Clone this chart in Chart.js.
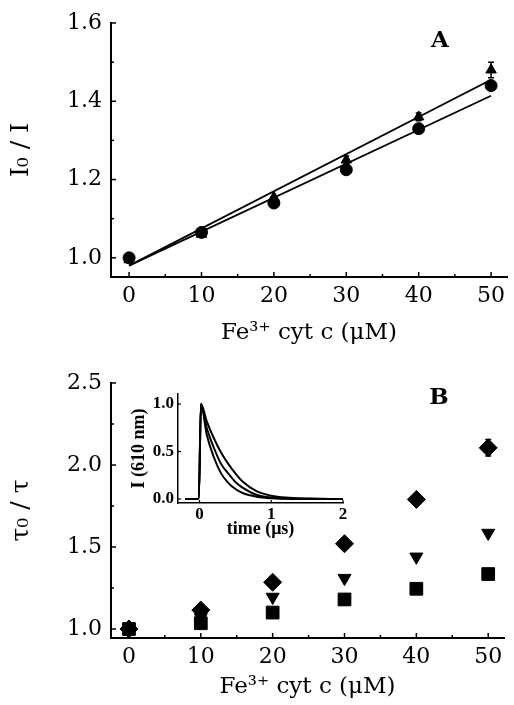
<!DOCTYPE html>
<html>
<head>
<meta charset="utf-8">
<script src="https://cdn.jsdelivr.net/npm/chart.js@4.4.1/dist/chart.umd.min.js"></script>
<style>
  body { margin: 0; background: #fff; }
  #wrap { position: relative; width: 514px; height: 705px; }
  canvas { position: absolute; }
</style>
</head>
<body>
<div id="wrap">
  <canvas id="chartA" width="514" height="350" style="left:0;top:0"></canvas>
  <canvas id="chartB" width="514" height="355" style="left:0;top:350px"></canvas>
  <canvas id="inset" width="240" height="162" style="left:118px;top:380px"></canvas>
</div>
<script>
// x values shared by both panels (Fe3+ cyt c, uM)
const conc = [0, 10, 20, 30, 40, 50];

// panel A: I0 / I
const ratioCircle = [1.00, 1.065, 1.14, 1.225, 1.33, 1.44];
const ratioTriangle = [0.995, 1.06, 1.155, 1.25, 1.36, 1.48];
const ratioTriangleErr = [0, 0, 0, 0.01, 0.01, 0.02];
const fitX = [0, 50];
const fitCircle = [0.98, 1.414];
const fitTriangle = [0.98, 1.455];

// panel B: tau0 / tau
const tauDiamond = [1.00, 1.115, 1.285, 1.52, 1.79, 2.105];
const tauDiamondErr = [0, 0, 0, 0, 0, 0.05];
const tauTriangle = [1.00, 1.07, 1.195, 1.31, 1.44, 1.585];
const tauSquare = [1.00, 1.035, 1.10, 1.18, 1.245, 1.335];

// inset: emission decays I(610 nm) vs time (us)
const decayTime = [-0.2, -0.01, 0.02, 0.1, 0.2, 0.3, 0.4, 0.5, 0.6, 0.8, 1.0, 1.2, 1.5, 2.0];
const decaySlow = [0, 0, 1.0, 0.82, 0.64, 0.49, 0.37, 0.27, 0.185, 0.08, 0.035, 0.015, 0.005, 0];
const decayMid  = [0, 0, 1.0, 0.75, 0.54, 0.37, 0.27, 0.18, 0.12, 0.042, 0.016, 0.006, 0.002, 0];
const decayFast = [0, 0, 1.0, 0.68, 0.44, 0.27, 0.17, 0.105, 0.063, 0.024, 0.008, 0.003, 0, 0];

const serif = 'DejaVu Serif';
Chart.defaults.color = '#000';

const pts = (xs, ys) => xs.map((x, i) => ({ x: x, y: ys[i] }));

// tick marks drawn on the inside of the axes
const inwardTicks = {
  id: 'inwardTicks',
  afterDraw(chart, args, opts) {
    const { ctx, chartArea: ca } = chart;
    const xs = chart.scales.x, ys = chart.scales.y;
    ctx.save();
    ctx.strokeStyle = '#000';
    ctx.lineWidth = opts.width;
    const minors = (scale) => {
      const v = scale.ticks.map(t => t.value);
      const out = [];
      for (let i = 1; i < v.length; i++) out.push((v[i] + v[i - 1]) / 2);
      return out;
    };
    const xMark = (v, len) => {
      const p = xs.getPixelForValue(v);
      ctx.beginPath(); ctx.moveTo(p, ca.bottom); ctx.lineTo(p, ca.bottom - len); ctx.stroke();
    };
    const yMark = (v, len) => {
      const p = ys.getPixelForValue(v);
      ctx.beginPath(); ctx.moveTo(ca.left, p); ctx.lineTo(ca.left + len, p); ctx.stroke();
    };
    xs.ticks.forEach(t => xMark(t.value, opts.major));
    ys.ticks.forEach(t => yMark(t.value, opts.major));
    if (opts.minor) {
      minors(xs).forEach(v => xMark(v, opts.minor));
      minors(ys).forEach(v => yMark(v, opts.minor));
    }
    ctx.restore();
  }
};

const errorBars = {
  id: 'errorBars',
  afterDatasetsDraw(chart) {
    const ctx = chart.ctx;
    chart.data.datasets.forEach((ds, di) => {
      if (!ds.errors) return;
      const meta = chart.getDatasetMeta(di);
      const ys = chart.scales[meta.yAxisID];
      ctx.save();
      ctx.strokeStyle = '#000';
      ctx.lineWidth = 1.5;
      ds.data.forEach((p, i) => {
        const e = ds.errors[i];
        if (!e) return;
        const x = meta.data[i].x;
        const top = ys.getPixelForValue(p.y + e), bot = ys.getPixelForValue(p.y - e);
        ctx.beginPath();
        ctx.moveTo(x, top); ctx.lineTo(x, bot);
        ctx.moveTo(x - 3, top); ctx.lineTo(x + 3, top);
        ctx.moveTo(x - 3, bot); ctx.lineTo(x + 3, bot);
        ctx.stroke();
      });
      ctx.restore();
    });
  }
};

const panelLabel = {
  id: 'panelLabel',
  afterDraw(chart, args, opts) {
    if (!opts.text) return;
    const ctx = chart.ctx;
    ctx.save();
    ctx.font = 'bold 23px "' + serif + '"';
    ctx.fillStyle = '#000';
    ctx.textAlign = 'center';
    ctx.textBaseline = 'middle';
    ctx.fillText(opts.text, opts.x, opts.y);
    ctx.restore();
  }
};

function concAxis(height, titlePad) {
  return {
    type: 'linear', min: -2.5, max: 52.2,
    border: { display: true, color: '#000', width: 2 },
    grid: { display: false, drawTicks: false },
    ticks: { stepSize: 10, includeBounds: false, padding: 6, maxRotation: 0,
             font: { family: serif, size: 22 } },
    title: { display: true, text: 'Fe³⁺ cyt c (μM)', font: { family: serif, size: 23 },
             padding: { top: 0, bottom: titlePad } },
    afterFit(s) { s.height = height; }
  };
}

function valueAxis(min, max, step, title) {
  return {
    type: 'linear', min: min, max: max,
    border: { display: true, color: '#000', width: 2 },
    grid: { display: false, drawTicks: false },
    ticks: { stepSize: step, includeBounds: false, padding: 9,
             font: { family: serif, size: 22 }, callback: v => v.toFixed(1) },
    title: { display: true, text: title, font: { family: serif, size: 25 },
             padding: { top: 6, bottom: 0 } },
    afterFit(s) { s.width = 111; }
  };
}

const marker = (style, r, extra) => Object.assign({
  pointStyle: style, pointRadius: r, backgroundColor: '#000', borderColor: '#000',
  borderWidth: 1, showLine: false
}, extra || {});

new Chart(document.getElementById('chartA'), {
  type: 'scatter',
  data: {
    datasets: [
      marker('circle', 6, { data: pts(conc, ratioCircle) }),
      marker('triangle', 6, { data: pts(conc, ratioTriangle), errors: ratioTriangleErr }),
      { data: pts(fitX, fitTriangle), showLine: true, pointRadius: 0, borderColor: '#000', borderWidth: 1.8 },
      { data: pts(fitX, fitCircle), showLine: true, pointRadius: 0, borderColor: '#000', borderWidth: 1.8 }
    ]
  },
  options: {
    responsive: false, animation: false,
    layout: { padding: { top: 23, right: 1, left: 0, bottom: 0 } },
    plugins: {
      legend: { display: false }, tooltip: { enabled: false },
      inwardTicks: { major: 5, minor: 3, width: 1.5 },
      panelLabel: { text: 'A', x: 440, y: 41 }
    },
    scales: {
      x: concAxis(73, 3),
      y: valueAxis(0.951, 1.6, 0.2, 'I₀ / I')
    }
  },
  plugins: [inwardTicks, errorBars, panelLabel]
});

new Chart(document.getElementById('chartB'), {
  type: 'scatter',
  data: {
    datasets: [
      marker('rectRot', 9, { data: pts(conc, tauDiamond), errors: tauDiamondErr }),
      marker('triangle', 7.5, { data: pts(conc, tauTriangle), rotation: 180 }),
      marker('rect', 9, { data: pts(conc, tauSquare) })
    ]
  },
  options: {
    responsive: false, animation: false,
    layout: { padding: { top: 33, right: 1, left: 0, bottom: 0 } },
    plugins: {
      legend: { display: false }, tooltip: { enabled: false },
      inwardTicks: { major: 5, minor: 3, width: 1.5 },
      panelLabel: { text: 'B', x: 439, y: 48 }
    },
    scales: {
      x: concAxis(67, 4),
      y: valueAxis(0.945, 2.5, 0.5, 'τ₀ / τ')
    }
  },
  plugins: [inwardTicks, errorBars, panelLabel]
});

const insetFont = { family: 'Liberation Serif', size: 17, weight: 'bold' };
const insetTitleFont = { family: 'Liberation Serif', size: 18, weight: 'bold' };
const decayLine = (ys) => ({
  data: pts(decayTime, ys), borderColor: '#000', borderWidth: 2, pointRadius: 0,
  cubicInterpolationMode: 'monotone'
});

new Chart(document.getElementById('inset'), {
  type: 'line',
  data: { datasets: [decayLine(decaySlow), decayLine(decayMid), decayLine(decayFast)] },
  options: {
    responsive: false, animation: false,
    layout: { padding: { top: 13, right: 15, left: 0, bottom: 0 } },
    plugins: {
      legend: { display: false }, tooltip: { enabled: false },
      inwardTicks: { major: 3, minor: 0, width: 1.2 }
    },
    scales: {
      x: {
        type: 'linear', min: -0.3, max: 2,
        border: { display: true, color: '#000', width: 1.5 },
        grid: { display: false, drawTicks: false },
        ticks: { stepSize: 1, includeBounds: false, padding: 1, maxRotation: 0, font: insetFont },
        title: { display: true, text: 'time (μs)', font: insetTitleFont,
                 padding: { top: 0, bottom: 2 } },
        afterFit(s) { s.height = 39; }
      },
      y: {
        type: 'linear', min: -0.042, max: 1.104,
        border: { display: true, color: '#000', width: 1.5 },
        grid: { display: false, drawTicks: false },
        ticks: { stepSize: 0.5, includeBounds: false, padding: 4, font: insetFont,
                 callback: v => v.toFixed(1) },
        title: { display: true, text: 'I (610 nm)', font: insetTitleFont,
                 padding: { top: 11, bottom: 0 } },
        afterFit(s) { s.width = 60; }
      }
    }
  },
  plugins: [inwardTicks]
});
</script>
</body>
</html>
